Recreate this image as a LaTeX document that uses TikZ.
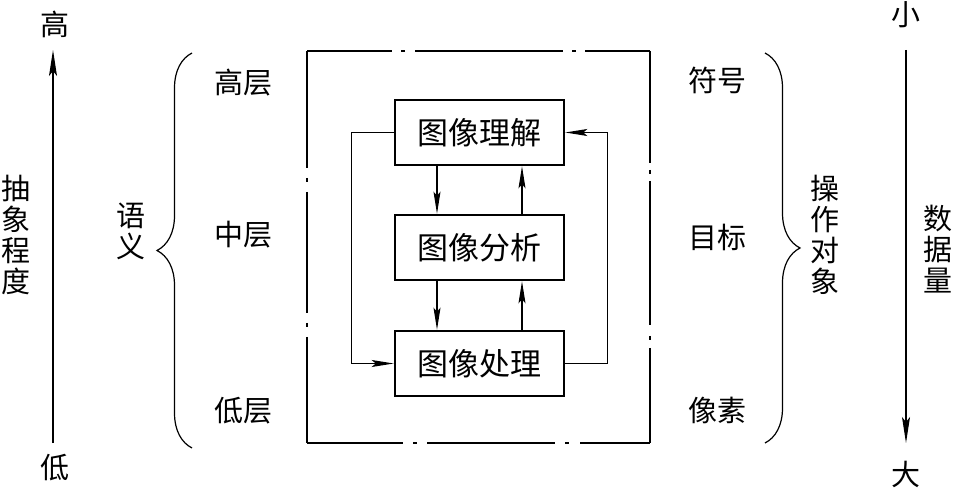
\documentclass[tikz,border=0pt]{standalone}
\usepackage{fontspec}
\setmainfont{Noto Sans CJK SC}
\usetikzlibrary{arrows.meta,decorations.pathreplacing}
\tikzset{
  lbl/.style={inner sep=0pt,font=\fontsize{29}{31}\selectfont},
  vlbl/.style={inner sep=0pt,font=\fontsize{29}{31}\selectfont,align=center},
  procbox/.style={draw,line width=2.6pt,minimum width=169pt,minimum height=65pt,inner sep=0pt,font=\fontsize{31}{33}\selectfont},
  thin/.style={line width=1.2pt},
  arr/.style={thin,-{Stealth[length=22pt,width=7pt,inset=4pt]}},
  axarr/.style={thin,-{Stealth[length=26pt,width=8pt,inset=5pt]}},
  bracestyle/.style={thin,decorate,decoration={brace,amplitude=35pt}},
}
\begin{document}
\begin{tikzpicture}[x=1pt,y=-1pt]
\useasboundingbox (0,0) rectangle (954,489);
% outer frame with small breaks
\begin{scope}[thin]
\draw (307,51) -- (392,51) (401,51) -- (405,51) (415,51) -- (563,51) (572,51) -- (576,51) (585,51) -- (650,51);
\draw (650,51) -- (650,163) (650,170) -- (650,174) (650,181) -- (650,325) (650,336) -- (650,340) (650,348) -- (650,443);
\draw (307,443) -- (403,443) (413,443) -- (417,443) (427,443) -- (555,443) (565,443) -- (569,443) (580,443) -- (650,443);
\draw (307,51) -- (307,168) (307,178) -- (307,182) (307,192) -- (307,313) (307,323) -- (307,327) (307,337) -- (307,443);
\end{scope}
% process boxes
\node[procbox] (top) at (479.5,132.5) {图像理解};
\node[procbox] (mid) at (479.5,247.5) {图像分析};
\node[procbox] (bot) at (479.5,363.5) {图像处理};
\draw[arr] ([xshift=-42.5pt]top.south) -- ([xshift=-42.5pt]mid.north);
\draw[arr] ([xshift=42.5pt]mid.north) -- ([xshift=42.5pt]top.south);
\draw[arr] ([xshift=-42.5pt]mid.south) -- ([xshift=-42.5pt]bot.north);
\draw[arr] ([xshift=42.5pt]bot.north) -- ([xshift=42.5pt]mid.south);
\draw[arr] (top.west) -- ++(-42,0) |- (bot.west);
\draw[arr] (bot.east) -- ++(42,0) |- (top.east);
% left axis
\node[lbl] (hi) at (55,24) {高};
\node[lbl] (lo) at (55,468) {低};
\coordinate (la0) at (53,443);
\coordinate (la1) at (53,50);
\draw[axarr] (la0) -- (la1);
\node[vlbl] (abs) at (16,235) {抽\\象\\程\\度};
% left brace
\coordinate (lb0) at (192,448);
\coordinate (lb1) at (192,53);
\draw[bracestyle] (lb0) -- (lb1);
\node[vlbl] (sem) at (131,231) {语\\义};
\node[lbl] (l1) at (243,83) {高层};
\node[lbl] (l2) at (243,235) {中层};
\node[lbl] (l3) at (243,411) {低层};
% right side
\node[lbl] (r1) at (717,80) {符号};
\node[lbl] (r2) at (717,237) {目标};
\node[lbl] (r3) at (717,410) {像素};
\coordinate (rb0) at (765,53);
\coordinate (rb1) at (765,443);
\draw[bracestyle] (rb0) -- (rb1);
\node[vlbl] (obj) at (825,235) {操\\作\\对\\象};
% right axis
\node[lbl] (sm) at (906,15) {小};
\node[lbl] (bg) at (906,474) {大};
\coordinate (ra0) at (906,50);
\coordinate (ra1) at (906,443);
\draw[axarr] (ra0) -- (ra1);
\node[vlbl] (dat) at (938,249) {数\\据\\量};
\end{tikzpicture}
\end{document}
